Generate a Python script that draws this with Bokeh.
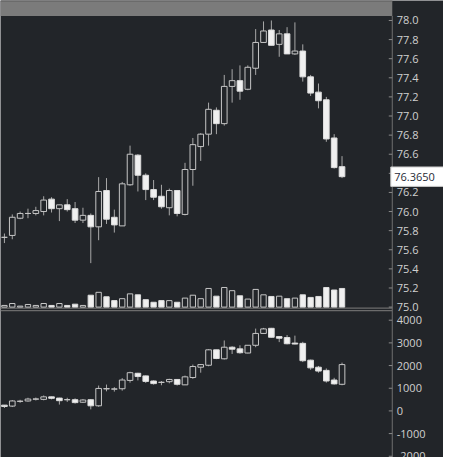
from bokeh.plotting import figure
from bokeh.models import ColumnDataSource, Range1d
from bokeh.core.properties import value
from bokeh.embed import file_html
from bokeh.resources import INLINE

# ---------------- data ----------------
price_open  = [75.73, 75.75, 75.93, 75.98, 75.98, 76.00, 76.13, 76.03, 76.07, 76.03,
               75.91, 75.96, 75.84, 76.22, 75.94, 75.85, 76.28, 76.59, 76.38, 76.23,
               76.16, 76.04, 76.22, 75.97, 76.44, 76.68, 76.81, 77.06, 76.92, 77.31,
               77.37, 77.28, 77.50, 77.77, 77.90, 77.75, 77.86, 77.65, 77.68, 77.41,
               77.25, 77.17, 76.77, 76.47]
price_high  = [75.77, 75.97, 76.00, 76.03, 76.05, 76.16, 76.15, 76.07, 76.13, 76.10,
               76.04, 75.98, 76.36, 76.35, 76.02, 76.31, 76.69, 76.60, 76.40, 76.33,
               76.28, 76.24, 76.22, 76.51, 76.77, 76.82, 77.14, 77.09, 77.43, 77.49,
               77.53, 77.53, 77.91, 77.99, 78.00, 77.90, 77.93, 77.98, 77.75, 77.43,
               77.34, 77.20, 76.81, 76.58]
price_low   = [75.67, 75.71, 75.92, 75.93, 75.96, 75.96, 75.99, 75.90, 76.00, 75.88,
               75.88, 75.46, 75.70, 75.87, 75.78, 75.85, 76.27, 76.21, 76.12, 76.12,
               76.03, 75.96, 75.95, 75.96, 76.27, 76.53, 76.69, 76.81, 76.90, 77.14,
               77.17, 77.27, 77.43, 77.77, 77.74, 77.62, 77.65, 77.64, 77.36, 77.21,
               77.08, 76.73, 76.45, 76.35]
price_close = [75.73, 75.94, 75.98, 75.98, 76.01, 76.12, 76.03, 76.07, 76.02, 75.91,
               75.96, 75.84, 76.21, 75.92, 75.86, 76.29, 76.60, 76.38, 76.23, 76.15,
               76.05, 76.22, 75.98, 76.44, 76.70, 76.81, 77.07, 76.92, 77.31, 77.37,
               77.26, 77.51, 77.77, 77.89, 77.74, 77.86, 77.65, 77.68, 77.41, 77.24,
               77.16, 76.76, 76.46, 76.365]
volume      = [170, 370, 100, 270, 170, 370, 170, 370, 170, 300,
               170, 1230, 1530, 1070, 670, 870, 1370, 1270, 770, 500,
               670, 670, 500, 930, 1230, 870, 1930, 1130, 2030, 1700,
               1170, 830, 1830, 1270, 1100, 1130, 870, 930, 1270, 1000,
               1100, 2030, 1770, 1930]

ind_open  = [255, 213, 420, 438, 515, 510, 620, 566, 490, 494,
             383, 494, 225, 970, 960, 978, 1345, 1660, 1545, 1319,
             1255, 1289, 1387, 1149, 1472, 1928, 2013, 2694, 2298, 2809,
             2736, 2553, 2894, 3417, 3643, 3277, 3234, 2991, 2979, 2238,
             1928, 1787, 1362, 1174]
ind_high  = [260, 481, 490, 580, 590, 680, 630, 580, 580, 553,
             523, 523, 1119, 1162, 1047, 1447, 1728, 1680, 1560, 1345,
             1319, 1417, 1400, 1557, 2043, 2068, 2723, 2694, 3106, 2851,
             2894, 2894, 3630, 3660, 3660, 3300, 3345, 3319, 3047, 2260,
             1983, 1872, 1460, 2128]
ind_low   = [128, 170, 360, 410, 460, 468, 510, 280, 396, 323,
             353, 68, 183, 864, 851, 893, 1247, 1345, 1234, 1162,
             1132, 1217, 1119, 1149, 1417, 1685, 1970, 2281, 2268, 2511,
             2523, 2540, 2809, 3400, 3234, 3034, 2936, 2936, 2153, 1813,
             1685, 1247, 1162, 1132]
ind_close = [196, 438, 430, 523, 530, 620, 555, 451, 500, 366,
             481, 225, 991, 985, 970, 1362, 1685, 1515, 1302, 1204,
             1265, 1387, 1174, 1502, 1957, 2043, 2694, 2311, 2809, 2723,
             2566, 2894, 3417, 3617, 3247, 3204, 2962, 2949, 2213, 1898,
             1757, 1319, 1191, 2043]

price_ticks = [75.0, 75.2, 75.4, 75.6, 75.8, 76.0, 76.2, 76.4, 76.6, 76.8,
               77.0, 77.2, 77.4, 77.6, 77.8, 78.0]
price_tick_labels = ["75.0", "75.2", "75.4", "75.6", "75.8", "76.0", "76.2", "76.4",
                     "76.6", "76.8", "77.0", "77.2", "77.4", "77.6", "77.8", "78.0"]
ind_ticks = [-2000, -1000, 0, 1000, 2000, 3000, 4000]
ind_tick_labels = ["-2000", "-1000", "0", "1000", "2000", "3000", "4000"]
last_price_text = "76.3650"

# ---------------- styling / layout ----------------
BG = "#222529"
HEADER = "#7b7b7b"
FILLED = "#f0f0f0"
HOLLOW_LINE = "#c6c6c6"
FILLED_LINE = "#dcdcdc"
WICK = "#a8a8a8"
AXIS = "#6f6f6f"
TICK = "#8a8a8a"
LABEL = "#d0d0d0"
FONT = "Open Sans"
FONT_SIZE = "11px"

W, H = 443, 457
S = 0.965                      # scale of this canvas vs. the original screenshot
SLOT_PX = 8.136 * S            # px per candle slot
X0 = -0.5                      # left edge (data units)
X_AXIS = 49.4                  # position of the price axis (data units)
X_END = X0 + W / SLOT_PX

PRICE_PX = 99.0 * S            # px per price unit
PRICE_TOP = 78.0 + 20.7 * S / PRICE_PX
PRICE_BOTTOM = PRICE_TOP - H / PRICE_PX

IND_PX = 23.5 * S / 1000.0     # px per indicator unit
IND_TOP = 425.3 * S / IND_PX
IND_BOTTOM = IND_TOP - H / IND_PX

VOL_PX = S / 100.0             # px per volume unit
VOL_BASE = 75.0                # volume bars stand on the 75.0 line
VOL_TOP = (PRICE_TOP - VOL_BASE) * PRICE_PX / VOL_PX
VOL_BOTTOM = VOL_TOP - H / VOL_PX


def y_at(px_from_top):
    """Primary (price) coordinate of a decoration placed px below the canvas top."""
    return PRICE_TOP - px_from_top / PRICE_PX


n = len(price_open)
idx = list(range(n))

p = figure(width=W, height=H, x_range=Range1d(X0, X_END),
           y_range=Range1d(PRICE_BOTTOM, PRICE_TOP),
           toolbar_location=None, output_backend="svg",
           x_axis_location=None, y_axis_location=None)
p.min_border_left = 0
p.min_border_right = 0
p.min_border_top = 0
p.min_border_bottom = 0
p.background_fill_color = BG
p.border_fill_color = BG
p.outline_line_color = None
p.xgrid.visible = False
p.ygrid.visible = False
p.extra_y_ranges = {"vol": Range1d(VOL_BOTTOM, VOL_TOP),
                    "ind": Range1d(IND_BOTTOM, IND_TOP)}


def candle_source(o, h, l, c):
    up = [ci >= oi for oi, ci in zip(o, c)]
    return ColumnDataSource(dict(
        x=idx, open=o, high=h, low=l, close=c,
        top=[max(a, b) for a, b in zip(o, c)],
        bottom=[min(a, b) for a, b in zip(o, c)],
        fill=[BG if u else FILLED for u in up],
        line=[HOLLOW_LINE if u else FILLED_LINE for u in up],
    ))


# header strip
p.quad(left=[X0], right=[X_AXIS], bottom=[y_at(16.0 * S)], top=[PRICE_TOP],
       fill_color=HEADER, line_color=None)
p.segment(x0=[X0], y0=[y_at(0.5)], x1=[X_AXIS], y1=[y_at(0.5)], line_color="#5c5c5c", line_width=1)

# pane separators
for ref_y in (318.8, 321.3):
    p.segment(x0=[X0], y0=[y_at(ref_y * S)], x1=[X_AXIS], y1=[y_at(ref_y * S)],
              line_color="#6c6c6c", line_width=1.2)

# price pane: volume + candles
src = candle_source(price_open, price_high, price_low, price_close)
src.data["volume"] = volume
src.data["zero"] = [0] * n
p.vbar(x="x", width=0.68, top="volume", bottom="zero", fill_color="fill",
       line_color="line", line_width=1, source=src, y_range_name="vol")
p.segment(x0="x", y0="low", x1="x", y1="high", line_color=WICK, line_width=1, source=src)
p.vbar(x="x", width=0.72, top="top", bottom="bottom", fill_color="fill",
       line_color="line", line_width=1, source=src)

# indicator pane
src2 = candle_source(ind_open, ind_high, ind_low, ind_close)
p.segment(x0="x", y0="low", x1="x", y1="high", line_color=WICK, line_width=1,
          source=src2, y_range_name="ind")
p.vbar(x="x", width=0.72, top="top", bottom="bottom", fill_color="fill",
       line_color="line", line_width=1, source=src2, y_range_name="ind")

# right-hand value axis (line, inward ticks, labels)
p.segment(x0=[X_AXIS], y0=[PRICE_BOTTOM], x1=[X_AXIS], y1=[y_at(16.0 * S)],
          line_color=AXIS, line_width=1)
tick_len = 3.5 / SLOT_PX
pt = ColumnDataSource(dict(y=price_ticks, text=price_tick_labels,
                           x0=[X_AXIS - tick_len] * len(price_ticks),
                           x1=[X_AXIS] * len(price_ticks)))
it = ColumnDataSource(dict(y=ind_ticks, text=ind_tick_labels,
                           x0=[X_AXIS - tick_len] * len(ind_ticks),
                           x1=[X_AXIS] * len(ind_ticks)))
p.segment(x0="x0", y0="y", x1="x1", y1="y", line_color=TICK, line_width=1, source=pt)
p.segment(x0="x0", y0="y", x1="x1", y1="y", line_color=TICK, line_width=1,
          source=it, y_range_name="ind")
p.text(x="x1", y="y", text="text", source=pt, x_offset=4.5,
       text_font=value(FONT), text_font_size=value(FONT_SIZE), text_color=LABEL,
       text_align="left", text_baseline="middle")
p.text(x="x1", y="y", text="text", source=it, x_offset=4.5, y_range_name="ind",
       text_font=value(FONT), text_font_size=value(FONT_SIZE), text_color=LABEL,
       text_align="left", text_baseline="middle")

# last-price marker box
last = price_close[-1]
half_h = 9.7 / PRICE_PX
p.quad(left=[X_AXIS - 1.5 / SLOT_PX], right=[X_END + 1], bottom=[last - half_h], top=[last + half_h],
       fill_color="#ffffff", line_color="#c8c8c8", line_width=1)
p.text(x=[X_AXIS], y=[last], text=[last_price_text], x_offset=2,
       text_font=value(FONT), text_font_size=value(FONT_SIZE), text_color="#1f2a36",
       text_align="left", text_baseline="middle")

open("out.html", "w").write(file_html(p, INLINE))
